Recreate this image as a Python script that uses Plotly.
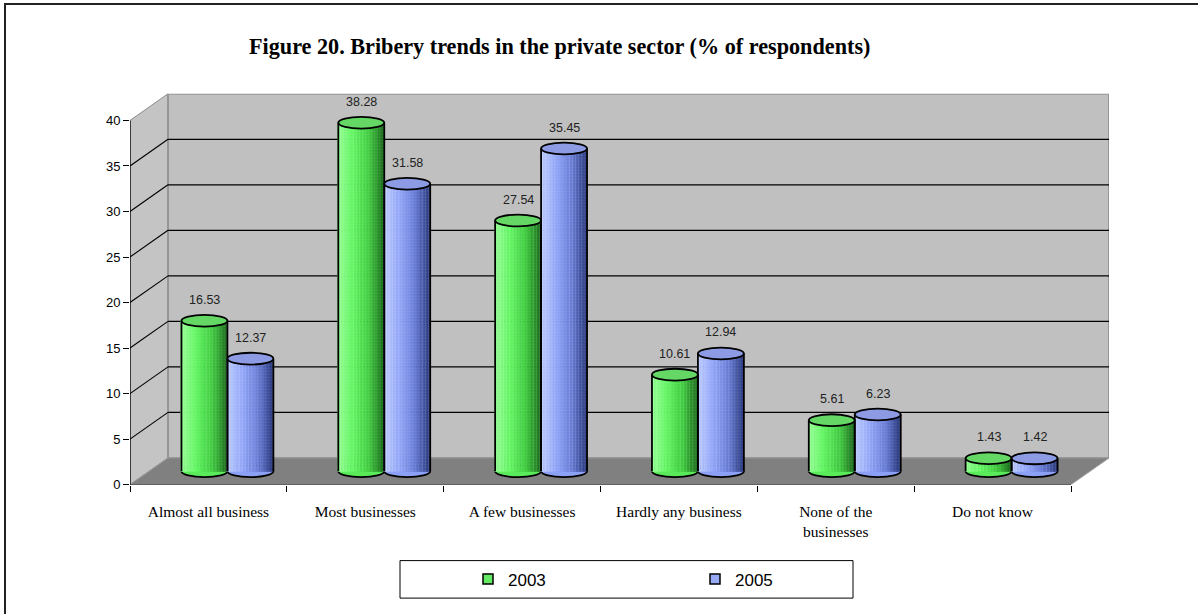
import plotly.graph_objects as go

# ---- data -------------------------------------------------------------
categories = ["Almost all business", "Most businesses", "A few businesses",
              "Hardly any business", "None of the<br>businesses", "Do not know"]
values_2003 = [16.53, 38.28, 27.54, 10.61, 5.61, 1.43]
values_2005 = [12.37, 31.58, 35.45, 12.94, 6.23, 1.42]
series_names = ["2003", "2005"]
y_ticks = [0, 5, 10, 15, 20, 25, 30, 35, 40]

# ---- geometry / style -------------------------------------------------
W, H = 1198, 614
PLOT_L, PLOT_R, PLOT_B, PLOT_T = 130, 1109, 491, 95   # pixel frame of the 3D box
DEPTH_X = 0.2423      # depth shift of the back wall, in category units
DEPTH_Y = 2.93        # depth shift of the back wall, in value units
BAR_W = 0.293         # width of one cylinder
CAP_H = 0.65          # half height of cylinder caps (value units)
N_SLICES = 14         # vertical strips used for the cylinder shading
Y_MAX = 40

GREEN_STOPS = [(0.0, (150, 255, 150)), (0.35, (95, 245, 95)), (0.7, (60, 200, 60)), (1.0, (25, 105, 25))]
BLUE_STOPS = [(0.0, (190, 205, 255)), (0.35, (145, 165, 250)), (0.7, (100, 120, 210)), (1.0, (40, 55, 125))]
CAP_COLORS = ["rgb(100,215,100)", "rgb(140,155,228)"]
BODY_COLORS = ["rgb(90,235,90)", "rgb(140,160,245)"]
LEGEND_COLORS = ["rgb(100,235,100)", "rgb(150,170,245)"]


def fx(px):
    return px / W


def fy(py):
    return 1 - py / H


def interp(stops, t):
    for (t0, c0), (t1, c1) in zip(stops, stops[1:]):
        if t0 <= t <= t1:
            u = (t - t0) / (t1 - t0)
            return "rgb(%d,%d,%d)" % tuple(round(a + (b - a) * u) for a, b in zip(c0, c1))
    return "rgb(%d,%d,%d)" % stops[-1][1]


n = len(categories)
xs = list(range(n))
x_lo, x_hi = -0.5, n - 0.5
x_range = [x_lo, x_hi + DEPTH_X]
y_range = [0, Y_MAX + DEPTH_Y]
base = DEPTH_Y / 2          # bars stand half way between front edge and back wall

fig = go.Figure()
shapes = []
annotations = []

# ---- walls and floor --------------------------------------------------
def poly(points, fill, line_color, width, layer="below"):
    path = "M " + " L ".join(f"{x},{y}" for x, y in points) + " Z"
    return dict(type="path", path=path, xref="x", yref="y", fillcolor=fill,
                line=dict(color=line_color, width=width), layer=layer)


# side wall
shapes.append(poly([(x_lo, 0), (x_lo + DEPTH_X, DEPTH_Y), (x_lo + DEPTH_X, Y_MAX + DEPTH_Y), (x_lo, Y_MAX)],
                   "#c4c4c4", "#8c8c8c", 1))
# back wall
shapes.append(poly([(x_lo + DEPTH_X, DEPTH_Y), (x_hi + DEPTH_X, DEPTH_Y), (x_hi + DEPTH_X, Y_MAX + DEPTH_Y),
                    (x_lo + DEPTH_X, Y_MAX + DEPTH_Y)], "#c0c0c0", "#969696", 2))
# floor
shapes.append(poly([(x_lo, 0), (x_hi, 0), (x_hi + DEPTH_X, DEPTH_Y), (x_lo + DEPTH_X, DEPTH_Y)],
                   "#808080", "#9a9a9a", 1))

# gridlines on the back wall and the side wall
for t in y_ticks[1:-1]:
    shapes.append(dict(type="line", xref="x", yref="y", x0=x_lo + DEPTH_X, x1=x_hi + DEPTH_X,
                       y0=t + DEPTH_Y, y1=t + DEPTH_Y, line=dict(color="black", width=1.3), layer="below"))
    shapes.append(dict(type="line", xref="x", yref="y", x0=x_lo, x1=x_lo + DEPTH_X,
                       y0=t, y1=t + DEPTH_Y, line=dict(color="black", width=1.1), layer="below"))

# front axis lines
shapes.append(dict(type="line", xref="x", yref="y", x0=x_lo, x1=x_lo, y0=0, y1=Y_MAX,
                   line=dict(color="black", width=1.3), layer="above"))
shapes.append(dict(type="line", xref="x", yref="y", x0=x_lo, x1=x_hi, y0=0, y1=0,
                   line=dict(color="black", width=1.3), layer="above"))

# ---- cylinders --------------------------------------------------------
all_values = [values_2003, values_2005]
stops_list = [GREEN_STOPS, BLUE_STOPS]
offsets = [DEPTH_X / 2 - BAR_W, DEPTH_X / 2]

for s, (vals, stops) in enumerate(zip(all_values, stops_list)):
    off = offsets[s]
    sw = BAR_W / N_SLICES
    for k in range(N_SLICES):
        c = interp(stops, (k + 0.5) / N_SLICES)
        fig.add_trace(go.Bar(
            x=xs, y=vals, base=base, offset=off + k * sw, width=sw,
            marker=dict(color=c, line=dict(color=c, width=0.6),
                        pattern=dict(shape="+", size=3, solidity=0.25,
                                     fgcolor="white", fgopacity=0.22)),
            showlegend=False, hoverinfo="skip",
        ))
    for i, v in enumerate(vals):
        xl, xr = i + off, i + off + BAR_W
        top = base + v
        # rounded bottom
        shapes.append(dict(type="circle", xref="x", yref="y", x0=xl, x1=xr, y0=base - CAP_H, y1=base + CAP_H,
                           fillcolor=BODY_COLORS[s], line=dict(color="black", width=1.8), layer="below"))
        # outline of the sides
        for xe in (xl, xr):
            shapes.append(dict(type="line", xref="x", yref="y", x0=xe, x1=xe, y0=base, y1=top,
                               line=dict(color="black", width=1.8), layer="above"))
        # top cap
        shapes.append(dict(type="circle", xref="x", yref="y", x0=xl, x1=xr, y0=top - CAP_H, y1=top + CAP_H,
                           fillcolor=CAP_COLORS[s], line=dict(color="black", width=1.8), layer="above"))
        # value label
        annotations.append(dict(x=(xl + xr) / 2, y=top, xref="x", yref="y", yshift=21,
                                text=f"{v:.2f}", showarrow=False,
                                font=dict(family="Liberation Sans", size=12.5, color="#222222")))

# legend entries (markers only used for the legend)
for s, name in enumerate(series_names):
    fig.add_trace(go.Scatter(
        x=[None], y=[None], mode="markers", name=name, xaxis="x2",
        marker=dict(symbol="square", size=10, color=LEGEND_COLORS[s], line=dict(color="black", width=1.5)),
    ))

# title
annotations.append(dict(x=fx(559), y=fy(47), xref="paper", yref="paper", showarrow=False,
                        xanchor="center", yanchor="middle",
                        text="<b>Figure 20. Bribery trends in the private sector (% of respondents)</b>",
                        font=dict(family="Liberation Serif", size=22.2, color="black")))

# legend frame and outer frame
shapes.append(dict(type="rect", xref="paper", yref="paper", x0=fx(400), x1=fx(853), y0=fy(606), y1=fy(568),
                   fillcolor="white", line=dict(color="black", width=1), layer="below"))
shapes.append(dict(type="rect", xref="paper", yref="paper", x0=fx(5), x1=1.02, y0=-0.02, y1=fy(4),
                   line=dict(color="#222222", width=2), layer="above"))

fig.update_layout(
    width=W, height=H,
    margin=dict(l=0, r=0, t=0, b=0),
    paper_bgcolor="white", plot_bgcolor="rgba(0,0,0,0)",
    barmode="overlay", bargap=0,
    shapes=shapes, annotations=annotations,
    xaxis=dict(domain=[fx(PLOT_L), fx(PLOT_R)], range=x_range, showgrid=False, zeroline=False,
               showline=False, tickvals=[x - 0.5 for x in range(n + 1)], ticktext=[""] * (n + 1),
               ticks="outside", ticklen=6, tickcolor="black", tickwidth=1.3, fixedrange=True),
    xaxis2=dict(overlaying="x", matches="x", range=x_range, showgrid=False, zeroline=False,
                showline=False, tickvals=xs, ticktext=categories, ticks="outside", ticklen=13,
                tickcolor="rgba(0,0,0,0)", side="bottom", anchor="y",
                tickfont=dict(family="Liberation Serif", size=15.5, color="black")),
    yaxis=dict(domain=[fy(PLOT_B), fy(PLOT_T)], range=y_range, showgrid=False, zeroline=False,
               showline=False, tickvals=y_ticks, ticks="outside", ticklen=6, tickcolor="black",
               tickwidth=1.3, tickfont=dict(family="Liberation Sans", size=13, color="black")),
    legend=dict(orientation="h", x=fx(468), y=fy(587), xanchor="left", yanchor="middle",
                bgcolor="rgba(0,0,0,0)", entrywidth=182, entrywidthmode="pixels",
                font=dict(family="Liberation Sans", size=17, color="black")),
)

fig.write_html("out.html")
